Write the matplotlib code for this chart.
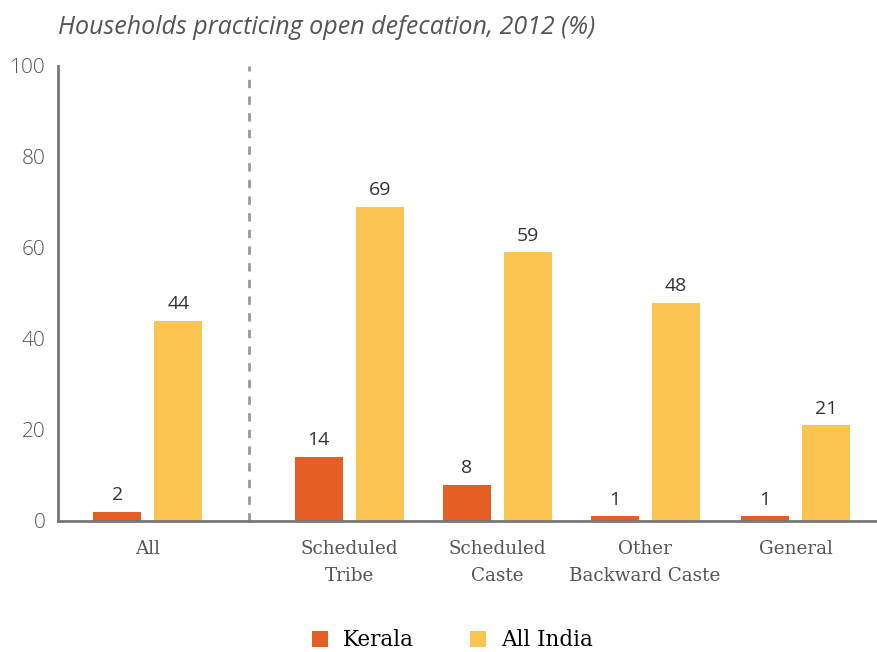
import matplotlib.pyplot as plt
import numpy as np

categories = ["All", "Scheduled\nTribe", "Scheduled\nCaste", "Other\nBackward Caste", "General"]
kerala = [2, 14, 8, 1, 1]
all_india = [44, 69, 59, 48, 21]

KERALA_COLOR = "#E55F25"
INDIA_COLOR = "#FCC552"

x = np.array([0, 1.343, 2.33, 3.317, 4.32])
w = 0.32
off = 0.203

fig = plt.figure(figsize=(8.78, 6.52), dpi=100)
ax = fig.add_axes([0.066, 0.201, 0.934, 0.698])

b1 = ax.bar(x - off, kerala, w, color=KERALA_COLOR, label="Kerala")
b2 = ax.bar(x + off, all_india, w, color=INDIA_COLOR, label="All India")

for bars in (b1, b2):
    for bar in bars:
        h = bar.get_height()
        ax.text(bar.get_x() + bar.get_width() / 2, h + 1.7, f"{h:.0f}",
                ha="center", va="bottom", fontsize=14, color="#333333",
                family="Open Sans")

ax.axvline((x[0] + x[1]) / 2, color="#999999", lw=2, ls=(0, (3, 3)))

ax.set_ylim(0, 100)
ax.set_xlim(-0.6, 4.87)
ax.set_yticks(range(0, 101, 20))
ax.set_xticks(x)
ax.set_xticklabels(categories, family="DejaVu Serif", fontsize=13.2, color="#555555",
                   linespacing=1.6)
for lab in ax.get_yticklabels():
    lab.set_family("Open Sans")
    lab.set_fontweight("light")
    lab.set_fontsize(15)
    lab.set_color("#555555")
ax.tick_params(axis="y", length=0, pad=9)
ax.tick_params(axis="x", length=0, pad=14)

for s in ("top", "right"):
    ax.spines[s].set_visible(False)
for s in ("left", "bottom"):
    ax.spines[s].set_color("#777777")
    ax.spines[s].set_linewidth(2)

fig.text(0.066, 0.958, "Households practicing open defecation, 2012 (%)",
         family="Open Sans", style="italic", fontsize=18, color="#555555",
         va="center")

fig.legend(handles=[b1, b2], labels=["Kerala", "All India"], loc="center",
           bbox_to_anchor=(0.515, 0.018), ncol=2, frameon=False,
           prop={"family": "DejaVu Serif", "size": 15.5}, handlelength=0.75,
           handleheight=0.75, columnspacing=2.6, handletextpad=0.7)

fig.savefig("out.png", dpi=100)
